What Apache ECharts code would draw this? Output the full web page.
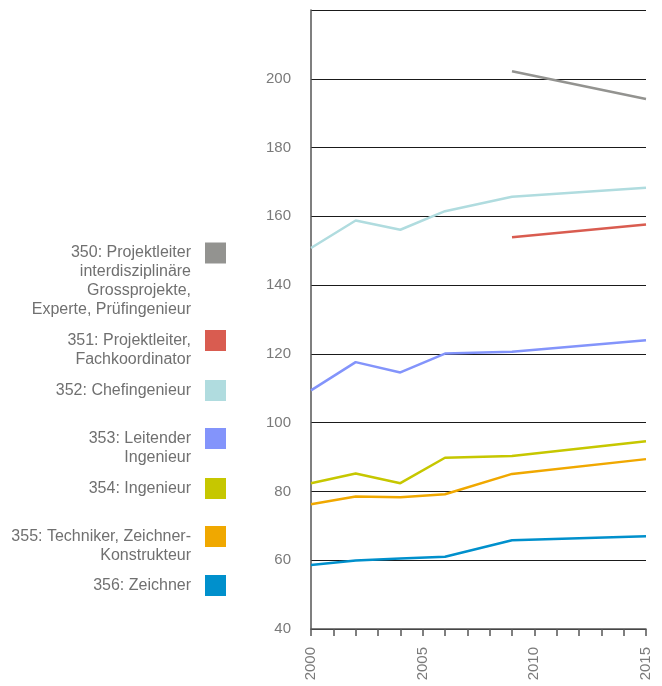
<!DOCTYPE html>
<html>
<head>
<meta charset="utf-8">
<script src="https://cdn.jsdelivr.net/npm/echarts@6/dist/echarts.min.js"></script>
<style>
html,body{margin:0;padding:0;background:#fff;}
#chart{width:662px;height:686px;}
</style>
</head>
<body>
<div id="chart"></div>
<script>
const years = [2000, 2002, 2004, 2006, 2009, 2015];
const codes = ['350', '351', '352', '353', '354', '355', '356'];
const labels = [
  '350: Projektleiter\ninterdisziplinäre\nGrossprojekte,\nExperte, Prüfingenieur',
  '351: Projektleiter,\nFachkoordinator',
  '352: Chefingenieur',
  '353: Leitender\nIngenieur',
  '354: Ingenieur',
  '355: Techniker, Zeichner-\nKonstrukteur',
  '356: Zeichner'
];
const v350 = [null, null, null, null, 202.2, 194.1];
const v351 = [null, null, null, null, 153.9, 157.6];
const v352 = [150.8, 158.8, 156.1, 161.5, 165.7, 168.3];
const v353 = [109.4, 117.6, 114.6, 120.1, 120.6, 124.0];
const v354 = [82.4, 85.2, 82.4, 89.8, 90.3, 94.6];
const v355 = [76.3, 78.5, 78.3, 79.2, 85.1, 89.4];
const v356 = [58.6, 59.9, 60.5, 61.0, 65.8, 67.0];
const yTicks = [40, 60, 80, 100, 120, 140, 160, 180, 200];
const xTicks = [2000, 2005, 2010, 2015];

const values = [v350, v351, v352, v353, v354, v355, v356];
const colors = ['#939390', '#d95c50', '#b0dcdf', '#8394fb', '#c6c700', '#f0a800', '#0090cc'];
const iconCenters = [253, 340.5, 389.5, 438.5, 487.5, 536.5, 584.5];
const LH = 19;
const FONT = 'Liberation Sans, Arial, Helvetica, sans-serif';

const series = codes.map((c, i) => ({
  name: c,
  type: 'line',
  symbol: 'none',
  color: colors[i],
  lineStyle: {width: 2.5, color: colors[i]},
  data: years.map((y, j) => [y, values[i][j]]).filter(d => d[1] !== null),
  animation: false
}));

const legends = codes.map((c, i) => {
  const k = labels[i].split('\n').length;
  const total = 2 * k - 1;
  return {
    data: [c],
    right: 436,
    top: iconCenters[i] - total * LH / 2,
    padding: 0,
    align: 'right',
    orient: 'vertical',
    icon: 'rect',
    itemWidth: 21,
    itemHeight: 21,
    selectedMode: false,
    formatter: () => '\n'.repeat(k - 1) + labels[i],
    textStyle: {fontSize: 16, lineHeight: LH, color: '#707070', fontFamily: FONT, padding: [0, 9, 0, 0]}
  };
});

const chart = echarts.init(document.getElementById('chart'));
chart.setOption({
  animation: false,
  backgroundColor: '#fff',
  grid: {left: 311, right: 16, top: 10, bottom: 57, containLabel: false},
  legend: legends,
  xAxis: {
    type: 'value',
    min: 2000,
    max: 2015,
    interval: 1,
    axisLine: {show: true, lineStyle: {color: '#555', width: 1.5}},
    axisTick: {show: true, length: 7, lineStyle: {color: '#555', width: 1.5}},
    splitLine: {show: false},
    axisLabel: {
      rotate: 90,
      margin: 18,
      fontSize: 15,
      color: '#7a7a7a',
      fontFamily: FONT,
      formatter: v => xTicks.includes(v) ? String(v) : ''
    }
  },
  yAxis: {
    type: 'value',
    min: 40,
    max: 220,
    interval: 20,
    axisLine: {show: true, lineStyle: {color: '#555', width: 1.5}},
    axisTick: {show: false},
    splitLine: {show: true, lineStyle: {color: '#1a1a1a', width: 1}},
    axisLabel: {
      margin: 20,
      fontSize: 15,
      color: '#7a7a7a',
      fontFamily: FONT,
      formatter: v => yTicks.includes(v) ? String(v) : ''
    }
  },
  series: series
});
</script>
</body>
</html>
